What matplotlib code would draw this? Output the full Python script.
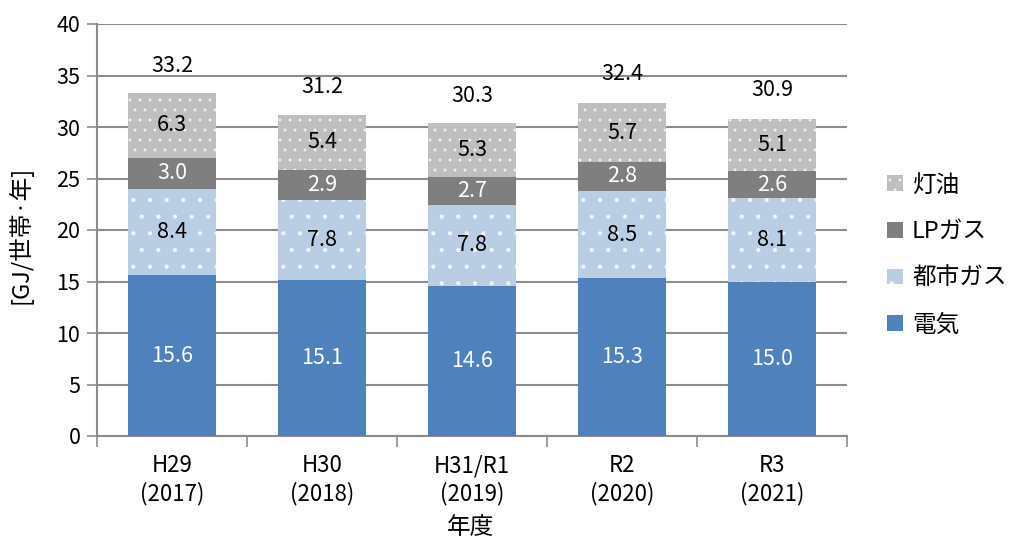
import matplotlib
matplotlib.use("Agg")
import matplotlib.pyplot as plt
import matplotlib.hatch as mh
import numpy as np
from matplotlib.patches import Patch

plt.rcParams['font.family'] = ['Noto Sans CJK JP', 'DejaVu Sans']
plt.rcParams['hatch.linewidth'] = 0.6

# dot hatching density tweak (styling only): '..' -> 10 rows per hatch unit
def _dots_init(self, hatch, density):
    c = hatch.count('.')
    self.num_rows = 10 if c == 2 else int(c * density)
    mh.Circles.__init__(self, hatch, density)
mh.SmallFilledCircles.__init__ = _dots_init

categories = ["H29\n(2017)", "H30\n(2018)", "H31/R1\n(2019)", "R2\n(2020)", "R3\n(2021)"]
electricity = [15.6, 15.1, 14.6, 15.3, 15.0]
city_gas = [8.4, 7.8, 7.8, 8.5, 8.1]
lp_gas = [3.0, 2.9, 2.7, 2.8, 2.6]
kerosene = [6.3, 5.4, 5.3, 5.7, 5.1]
totals = [33.2, 31.2, 30.3, 32.4, 30.9]
series_names = ["電気", "都市ガス", "LPガス", "灯油"]

fig = plt.figure(figsize=(10.17, 5.41), dpi=100)
ax = fig.add_axes([97/1017, 1-436/541, (847-97)/1017, (436-24)/541])

x = np.arange(len(categories))
w = 0.59
series = [electricity, city_gas, lp_gas, kerosene]
colors = ["#4F81BD", "#B9CDE5", "#7F7F7F", "#BFBFBF"]
hatches = [None, ".", None, ".."]
txtcol = ["white", "black", "white", "black"]
bottom = np.zeros(len(categories))
for vals, c, h, tc in zip(series, colors, hatches, txtcol):
    vals = np.array(vals)
    if h:
        ax.bar(x, vals, w, bottom=bottom, color=c, hatch=h, edgecolor="#F4F4F4", linewidth=0, zorder=3)
    else:
        ax.bar(x, vals, w, bottom=bottom, color=c, linewidth=0, zorder=3)
    for xi, b, v in zip(x, bottom, vals):
        ax.text(xi, b + v/2, f"{v:.1f}", ha="center", va="center", fontsize=15.5, color=tc, zorder=4)
    bottom = bottom + vals

for xi, t in zip(x, totals):
    ax.text(xi, t + 2.7, f"{t:.1f}", ha="center", va="center", fontsize=15.5, color="black")

ax.set_xlim(-0.5, len(categories)-0.5)
ax.set_ylim(0, 40)
ax.set_yticks(np.arange(0, 41, 5))
ax.yaxis.grid(True, color="#8C8C8C", linewidth=1.5, zorder=0)
ax.set_axisbelow(True)
ax.set_xticks(x)
ax.set_xticklabels(categories, fontsize=16, linespacing=1.25)
ax.set_xticks(np.arange(-0.5, len(categories), 1), minor=True)
ax.tick_params(axis="x", which="major", length=0, pad=13)
ax.tick_params(axis="x", which="minor", length=8, width=1.2, color="#8C8C8C")
ax.tick_params(axis="y", length=7, width=1.2, color="#8C8C8C", labelsize=15.5, pad=5)
for s in ["top", "right"]:
    ax.spines[s].set_visible(False)
for s in ["left", "bottom"]:
    ax.spines[s].set_color("#8C8C8C")
    ax.spines[s].set_linewidth(1.5)

fig.text(470/1017, 1-528/541, "年度", ha="center", va="center", fontsize=17)
fig.text(20/1017, 1-235/541, "[GJ/世帯·年]", ha="center", va="center", rotation=90, fontsize=17)

handles = [Patch(facecolor=colors[i], hatch=hatches[i], edgecolor="#F4F4F4", linewidth=0) for i in [3, 2, 1, 0]]
labels = [series_names[i] for i in [3, 2, 1, 0]]
leg = fig.legend(handles, labels, loc="center left", bbox_to_anchor=(866/1017, 1-255/541),
                 frameon=False, fontsize=17, handlelength=0.65, handleheight=0.65,
                 labelspacing=1.0, handletextpad=0.4)

fig.savefig("out.png", dpi=100)
